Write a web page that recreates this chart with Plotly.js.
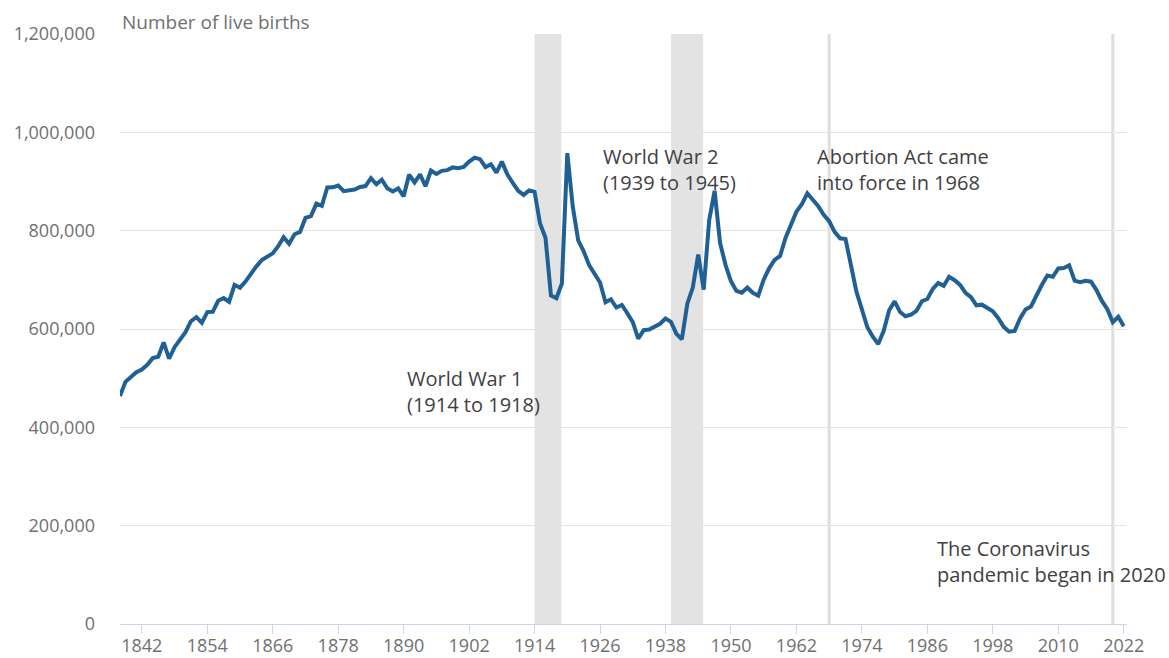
<!DOCTYPE html>
<html>
<head>
<meta charset="utf-8">
<script src="https://cdn.plot.ly/plotly-3.0.1.min.js"></script>
<style>
  html, body { margin: 0; padding: 0; background: #ffffff; }
  #chart { width: 1169px; height: 658px; }
</style>
</head>
<body>
<div id="chart"></div>
<script>
// ---- Data: live births, England and Wales ----
const years = [
  1838,1839,1840,1841,1842,1843,1844,1845,1846,1847,1848,1849,
  1850,1851,1852,1853,1854,1855,1856,1857,1858,1859,
  1860,1861,1862,1863,1864,1865,1866,1867,1868,1869,
  1870,1871,1872,1873,1874,1875,1876,1877,1878,1879,
  1880,1881,1882,1883,1884,1885,1886,1887,1888,1889,
  1890,1891,1892,1893,1894,1895,1896,1897,1898,1899,
  1900,1901,1902,1903,1904,1905,1906,1907,1908,1909,
  1910,1911,1912,1913,1914,1915,1916,1917,1918,1919,
  1920,1921,1922,1923,1924,1925,1926,1927,1928,1929,
  1930,1931,1932,1933,1934,1935,1936,1937,1938,1939,
  1940,1941,1942,1943,1944,1945,1946,1947,1948,1949,
  1950,1951,1952,1953,1954,1955,1956,1957,1958,1959,
  1960,1961,1962,1963,1964,1965,1966,1967,1968,1969,
  1970,1971,1972,1973,1974,1975,1976,1977,1978,1979,
  1980,1981,1982,1983,1984,1985,1986,1987,1988,1989,
  1990,1991,1992,1993,1994,1995,1996,1997,1998,1999,
  2000,2001,2002,2003,2004,2005,2006,2007,2008,2009,
  2010,2011,2012,2013,2014,2015,2016,2017,2018,2019,
  2020,2021,2022
];

const liveBirths = [
  463787,492574,502303,512158,517739,527325,540763,543521,572625,539965,563059,578159,
  593422,615865,624012,612391,634405,635043,657453,663071,655481,689881,
  684048,696406,712684,727417,740275,748069,753870,768349,786858,773381,
  792787,797428,825907,829778,854956,850607,887968,888200,891906,880389,
  881643,883642,889014,890722,906750,894270,903760,886331,879868,885944,
  869937,914157,897957,914542,890289,922291,915331,921683,923165,928646,
  927062,929807,940509,948271,945389,929293,935081,918042,940383,914472,
  896962,881138,872737,881890,879096,814614,785520,668346,662661,692438,
  957782,848814,780124,758131,729933,710582,694563,654172,660267,643673,
  648811,632081,613972,580413,597642,598756,605292,610557,621204,614479,
  590120,579091,651503,684334,751478,679937,820719,881026,775306,730518,
  697097,677529,673735,684372,673651,667811,700335,723381,740715,748501,
  785005,811281,838736,854055,875972,862725,849823,832164,819272,797538,
  784486,783155,725440,675953,639885,603445,584270,569259,596418,638028,
  656234,634492,625931,629134,636818,656417,661018,681511,693577,687725,
  706140,699217,689656,673467,664726,648138,649485,643095,635901,621872,
  604441,594634,596122,621469,639721,645835,669601,690013,708711,706248,
  723165,723913,729674,698512,695233,697852,696271,679106,657076,640370,
  613936,624828,605479
];

// Periods shaded on the chart (start year, end year)
const warStarts = [1914, 1939];
const warEnds   = [1918.9, 1944.9];

// Single-year events marked by a vertical line
const eventYears = [1968, 2020];

// Annotation texts and their anchor (year, births)
const noteTexts = [
  "World War 1<br>(1914 to 1918)",
  "World War 2<br>(1939 to 1945)",
  "Abortion Act came<br>into force in 1968",
  "The Coronavirus<br>pandemic began in 2020"
];
const noteYears  = [1890.6, 1926.6, 1965.8, 1987.8];
const noteValues = [527000, 978000, 978000, 182000];

const yTickVals = [0, 200000, 400000, 600000, 800000, 1000000, 1200000];
const yAxisLabel = "Number of live births";

// ---- Styles ----
const lineColor = "#206095";
const textDark = "#414042";
const tickGrey = "#707071";
const gridGrey = "#e4e4e4";
const bandGrey = "#e3e3e3";
const fontFam = "'Open Sans', 'Noto Sans', sans-serif";

const shapes = [];
for (let i = 0; i < warStarts.length; i++) {
  shapes.push({
    type: "rect", xref: "x", yref: "paper",
    x0: warStarts[i], x1: warEnds[i], y0: 0, y1: 1,
    fillcolor: bandGrey, line: { width: 0 }, layer: "between"
  });
}
for (let i = 0; i < eventYears.length; i++) {
  shapes.push({
    type: "line", xref: "x", yref: "paper",
    x0: eventYears[i], x1: eventYears[i], y0: 0, y1: 1,
    line: { color: "#dedede", width: 3 }, layer: "between"
  });
}

const annotations = noteTexts.map((t, i) => ({
  x: noteYears[i], y: noteValues[i], xref: "x", yref: "y",
  text: t, showarrow: false, xanchor: "left", yanchor: "top", align: "left",
  xshift: -2, yshift: 2,
  font: { family: fontFam, size: 20, color: textDark }
}));
annotations.push({
  x: 0, y: 1, xref: "paper", yref: "paper", yanchor: "bottom", xanchor: "left",
  yshift: -3, text: yAxisLabel, showarrow: false,
  font: { family: fontFam, size: 19, color: tickGrey }
});

const trace = {
  x: years, y: liveBirths, type: "scatter", mode: "lines",
  line: { color: lineColor, width: 4, shape: "linear" },
  hoverinfo: "x+y"
};

const layout = {
  width: 1169, height: 658,
  margin: { l: 120, r: 42, t: 34, b: 34, pad: 0 },
  paper_bgcolor: "#ffffff", plot_bgcolor: "#ffffff",
  showlegend: false,
  font: { family: fontFam, color: tickGrey },
  xaxis: {
    range: [1838, 2022.6], tick0: 1842, dtick: 12, tickmode: "linear",
    showgrid: false, zeroline: false,
    showline: true, linecolor: "#ccd6eb", linewidth: 1,
    ticks: "outside", ticklen: 9, tickcolor: "#ccd6eb", tickwidth: 1,
    ticklabelstandoff: -4,
    tickfont: { family: fontFam, size: 18, color: tickGrey },
    fixedrange: true
  },
  yaxis: {
    range: [0, 1200001], tickmode: "array", tickvals: yTickVals,
    tickformat: ",d",
    showgrid: true, gridcolor: gridGrey, gridwidth: 1,
    zeroline: false, showline: false, ticks: "",
    ticklabelstandoff: 24,
    tickfont: { family: fontFam, size: 18, color: tickGrey },
    fixedrange: true
  },
  shapes: shapes,
  annotations: annotations
};

Plotly.newPlot("chart", [trace], layout, { displayModeBar: false, staticPlot: true });
</script>
</body>
</html>
